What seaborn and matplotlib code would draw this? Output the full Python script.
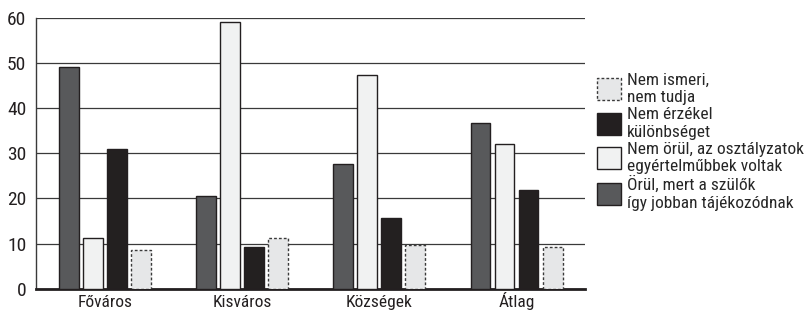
import pandas as pd
import matplotlib
matplotlib.use("Agg")
import matplotlib.pyplot as plt
import seaborn as sns
from matplotlib.patches import Patch

# chart data
categories = ["Főváros", "Kisváros", "Községek", "Átlag"]
series = [
    "Örül, mert a szülők\nígy jobban tájékozódnak",
    "Nem örül, az osztályzatok\negyértelműbbek voltak",
    "Nem érzékel\nkülönbséget",
    "Nem ismeri,\nnem tudja",
]
orul = [49.3, 20.5, 27.7, 36.8]
nem_orul = [11.3, 59.1, 47.4, 32.1]
nem_erzekel = [31.0, 9.3, 15.6, 21.9]
nem_ismeri = [8.5, 11.3, 9.6, 9.2]

colors = ["#58595b", "#f1f2f2", "#231f20", "#e6e7e8"]
edge = "#231f20"

rows = []
for s, vals in zip(series, [orul, nem_orul, nem_erzekel, nem_ismeri]):
    for c, v in zip(categories, vals):
        rows.append({"cat": c, "series": s, "value": v})
df = pd.DataFrame(rows)

sns.set_style("white")
plt.rcParams["font.family"] = ["Roboto Condensed", "DejaVu Sans"]

fig = plt.figure(figsize=(8.07, 3.13), dpi=100)
ax = fig.add_axes([0.0446, 0.078, 0.6805, 0.8635])

sns.barplot(data=df, x="cat", y="value", hue="series", order=categories,
            hue_order=series, palette=colors, width=0.70, gap=0.17,
            edgecolor=edge, linewidth=1.0, legend=False, ax=ax, zorder=3)

# dashed outline for the "don't know" bars
for bar in ax.containers[3]:
    bar.set_linestyle((0, (2, 1.5)))
    bar.set_edgecolor("#3a3a3a")

ax.set_ylim(0, 60)
ax.set_xlim(-0.5, 3.5)
ax.set_yticks(range(0, 61, 10))
ax.yaxis.grid(True, color="#3a3a3a", linewidth=0.9, zorder=0)
ax.set_axisbelow(True)
ax.tick_params(axis="y", length=0, labelsize=14, pad=7, colors="#231f20")
ax.tick_params(axis="x", which="major", length=0, labelsize=12.5, pad=13, colors="#231f20")
for lab in ax.get_xticklabels():
    lab.set_verticalalignment("baseline")
ax.set_xticks([0.5, 1.5, 2.5, 3.5], minor=True)
ax.tick_params(axis="x", which="minor", direction="in", length=5, width=1.2, color="#231f20")
ax.set_xlabel("")
ax.set_ylabel("")

for side in ["top", "right"]:
    ax.spines[side].set_visible(False)
ax.spines["left"].set_color("#3a3a3a")
ax.spines["left"].set_linewidth(1.0)
ax.spines["bottom"].set_color("#231f20")
ax.spines["bottom"].set_linewidth(2.0)

handles = [
    Patch(facecolor=colors[3], edgecolor="#3a3a3a", linestyle=(0, (2, 1.5)), linewidth=1.0),
    Patch(facecolor=colors[2], edgecolor=edge, linewidth=1.0),
    Patch(facecolor=colors[1], edgecolor=edge, linewidth=1.0),
    Patch(facecolor=colors[0], edgecolor=edge, linewidth=1.0),
]
labels = [series[3], series[2], series[1], series[0]]
fig.legend(handles, labels, loc="upper left", bbox_to_anchor=(0.731, 0.79),
           frameon=False, fontsize=12.5, handlelength=1.4, handleheight=1.55,
           handletextpad=0.35, labelspacing=0.12, borderaxespad=0)

fig.savefig("out.png", dpi=100)
